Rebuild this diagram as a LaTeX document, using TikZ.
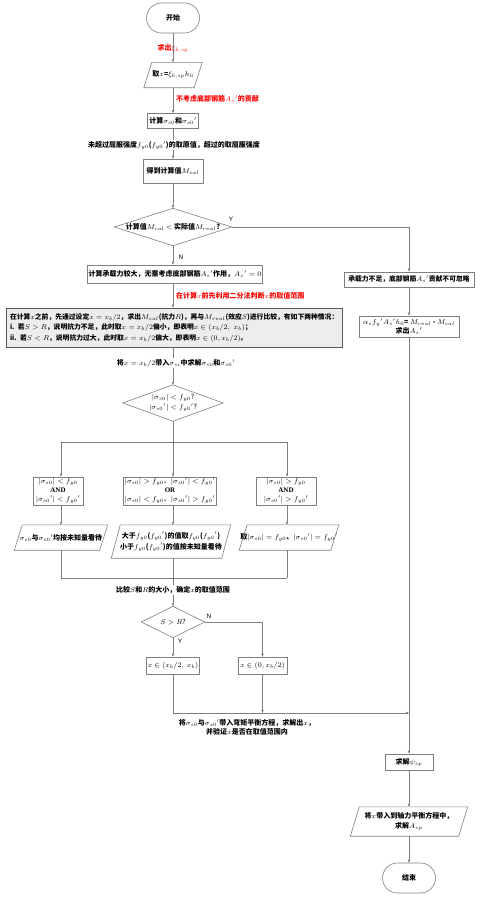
\documentclass[tikz,border=0pt]{standalone}
\usepackage{fontspec}
\setmainfont{Noto Sans CJK SC}
\newfontfamily\tnr{Liberation Serif}
\newfontfamily\lsans{Liberation Sans}
\usetikzlibrary{arrows.meta,calc}
\definecolor{lc}{HTML}{7F7F7F}
\definecolor{gboxfill}{HTML}{EDEDED}
\definecolor{gboxline}{HTML}{5A5A5A}
\definecolor{rd}{HTML}{FF0000}
\newcommand\drawpara[2]{\draw[shp] ($(#1.north west)+(#2,0)$) -- (#1.north east) -- ($(#1.south east)-(#2,0)$) -- (#1.south west) -- cycle;}
\newcommand\drawdia[1]{\draw[shp] (#1.north) -- (#1.east) -- (#1.south) -- (#1.west) -- cycle;}
\begin{document}
\begin{tikzpicture}[x=1pt,y=-1pt,
  every node/.style={font=\fontsize{7}{9}\selectfont\bfseries, inner sep=1pt, align=center},
  shp/.style={draw=lc, line width=0.6pt},
  ln/.style={draw=lc, line width=0.6pt},
  arr/.style={draw=lc, line width=0.6pt, -{Triangle[length=3pt,width=2.4pt]}},
  term/.style={shp, rounded corners=15pt, minimum width=53pt, minimum height=30pt},
  rbox/.style={shp},
  hid/.style={},
  redlab/.style={text=rd},
  wlab/.style={fill=white},
  yn/.style={font=\fontsize{6.5}{8}\selectfont\lsans}
]
\useasboundingbox (0,0) rectangle (484,898);

% main column
\node[term] (start) at (173,18) {开始};
\node[hid, minimum width=58pt, minimum height=25pt] (p1) at (173,75) {取$x$=$\xi_{b,sp}h_0$};
\drawpara{p1}{8}
\node[rbox, minimum width=51pt, minimum height=15pt] (b1) at (173,121) {计算$\sigma_{s0}$和$\sigma_{s0}{}'$};
\node[rbox, minimum width=60pt, minimum height=24pt] (b2) at (173,171) {得到计算值$M_{cal}$};
\node[hid, minimum width=117pt, minimum height=37pt] (d1) at (173,227) {计算值$M_{cal}$ $<$ 实际值$M_{real}$?};
\drawdia{d1}
\node[rbox, minimum width=175pt, minimum height=18pt] (b3) at (175,274) {计算承载力较大，无需考虑底部钢筋$A_s{}'$作用，$A_s{}'=0$};
\node[draw=gboxline, line width=0.6pt, fill=gboxfill, minimum width=336pt, minimum height=39pt, text width=328pt, align=left, font=\fontsize{6.8}{10.5}\selectfont\bfseries] (g) at (174,327.5) {在计算$x$之前，先通过设定$x=x_b/2$，求出$M_{cal}$(抗力$R$)，再与$M_{real}$(效应$S$)进行比较，有如下两种情况：\\
i. 若$S>R$，说明抗力不足，此时取$x=x_b/2$偏小，即表明$x\in(x_b/2,\ x_b)$；\\
ii. 若$S<R$，说明抗力过大，此时取$x=x_b/2$偏大，即表明$x\in(0,x_b/2)$。};
\node[hid, minimum width=100pt, minimum height=36pt, font=\fontsize{7}{10}\selectfont] (d2) at (173,403) {$|\sigma_{s0}|<f_{y0}$?\\$|\sigma_{s0}{}'|<f_{y0}{}'$?};
\drawdia{d2}

% three cases
\node[rbox, minimum width=50pt, minimum height=28pt, font=\fontsize{7}{9}\selectfont] (c1) at (58,491) {$|\sigma_{s0}|<f_{y0}$\\{\tnr\bfseries AND}\\$|\sigma_{s0}{}'|<f_{y0}{}'$};
\node[rbox, minimum width=86pt, minimum height=28pt, font=\fontsize{7}{9}\selectfont] (c2) at (170,491) {$|\sigma_{s0}|>f_{y0}$、$|\sigma_{s0}{}'|<f_{y0}{}'$\\{\tnr\bfseries OR}\\$|\sigma_{s0}|<f_{y0}$、$|\sigma_{s0}{}'|>f_{y0}{}'$};
\node[rbox, minimum width=60pt, minimum height=28pt, font=\fontsize{7}{9}\selectfont] (c3) at (286,491) {$|\sigma_{s0}|>f_{y0}$\\{\tnr\bfseries AND}\\$|\sigma_{s0}{}'|>f_{y0}{}'$};
\node[hid, minimum width=93pt, minimum height=25pt] (q1) at (61,537.5) {$\sigma_{s0}$与$\sigma_{s0}{}'$均按未知量看待};
\drawpara{q1}{8}
\node[hid, minimum width=119pt, minimum height=33pt, font=\fontsize{7}{11}\selectfont\bfseries] (q2) at (171,541.5) {大于$f_{y0}$($f_{y0}{}'$)的值取$f_{y0}$($f_{y0}{}'$)\\小于$f_{y0}$($f_{y0}{}'$)的值按未知量看待};
\drawpara{q2}{9}
\node[hid, minimum width=98pt, minimum height=25pt] (q3) at (289,537.5) {取$|\sigma_{s0}|=f_{y0}$、$|\sigma_{s0}{}'|=f_{y0}{}'$};
\drawpara{q3}{8}

\node[hid, minimum width=63pt, minimum height=31pt, font=\fontsize{7}{9}\selectfont] (d3) at (173,622) {$S>R$?};
\drawdia{d3}
\node[rbox, minimum width=48pt, minimum height=17pt, font=\fontsize{7}{9}\selectfont] (r1) at (173,665.5) {$x\in(x_b/2,\ x_b)$};
\node[rbox, minimum width=49pt, minimum height=17pt, font=\fontsize{7}{9}\selectfont] (r2) at (262.5,665.5) {$x\in(0,x_b/2)$};

% right column
\node[rbox, minimum width=130pt, minimum height=15pt, font=\fontsize{6.8}{9}\selectfont\bfseries] (R1) at (409,279.5) {承载力不足，底部钢筋$A_s{}'$贡献不可忽略};
\node[rbox, minimum width=100pt, minimum height=21pt, font=\fontsize{7}{8.5}\selectfont\bfseries] (R2) at (409,326.5) {$\alpha_s f_y{}'A_s{}'h_0$= $M_{real}$ - $M_{cal}$\\求出$A_s{}'$};
\node[rbox, minimum width=48pt, minimum height=16pt] (s1) at (409,762) {求解$\psi_{sp}$};
\node[hid, minimum width=117pt, minimum height=29pt, font=\fontsize{7}{9.5}\selectfont\bfseries] (q4) at (409,821.5) {将$x$带入到轴力平衡方程中，\\求解$A_{sp}$};
\drawpara{q4}{9}
\node[term] (end) at (409,878) {结束};

% coordinates
\coordinate (bx1) at (61,442);
\coordinate (bx2) at (173,442);
\coordinate (bx3) at (287,442);
\coordinate (j1) at (61,578);
\coordinate (j2) at (173,578);
\coordinate (j3) at (287,578);
\coordinate (m1) at (173,713);
\coordinate (m2) at (409,713);

% connectors
\draw[arr] (start) -- (p1);
\node[redlab] at (173,48) {求出$\xi_{b,sp}$};
\draw[arr] (p1) -- (b1);
\node[redlab, anchor=west] at (175,99) {不考虑底部钢筋$A_s{}'$的贡献};
\draw[arr] (b1) -- (b2);
\node[wlab] at (174,145) {未超过屈服强度$f_{y0}$($f_{y0}{}'$)的取原值，超过的取屈服强度};
\draw[arr] (b2) -- (d1);
\draw[arr] (d1.east) -| (R1.north);
\node[yn] at (231,219) {Y};
\draw[arr] (d1.south) -- (d1.south |- b3.north);
\node[yn] at (181,257) {N};
\draw[arr] (d1.south |- b3.south) -- (d1.south |- g.north);
\node[redlab, anchor=west] at (175,296) {在计算$x$前先利用二分法判断$x$的取值范围};
\draw[arr] (g.south -| d1.south) -- (d2.north);
\node[wlab] at (176,363) {将$x=x_b/2$带入$\sigma_{si}$中求解$\sigma_{s0}$和$\sigma_{s0}{}'$};
\draw[ln] (d2.south) -- (bx2);
\draw[ln] (bx1) -- (bx3);
\draw[arr] (bx1) -- (bx1 |- c1.north);
\draw[arr] (bx2) -- (bx2 |- c2.north);
\draw[arr] (bx3) -- (bx3 |- c3.north);
\draw[arr] (bx1 |- c1.south) -- (bx1 |- q1.north);
\draw[arr] (bx2 |- c2.south) -- (bx2 |- q2.north);
\draw[arr] (bx3 |- c3.south) -- (bx3 |- q3.north);
\draw[ln] (bx1 |- q1.south) -- (j1);
\draw[ln] (bx2 |- q2.south) -- (j2);
\draw[ln] (bx3 |- q3.south) -- (j3);
\draw[ln] (j1) -- (j3);
\draw[arr] (j2) -- (d3.north);
\node[wlab] at (173,590) {比较$S$和$R$的大小，确定$x$的取值范围};
\draw[arr] (d3.south) -- (r1.north);
\node[yn] at (180,641) {Y};
\draw[arr] (d3.east) -| (r2.north);
\node[yn] at (209,616) {N};
\draw[ln] (r1.south) -- (m1);
\draw[arr] (m1) -- (m2);
\draw[arr] (r2.south) -- (r2.south |- m1);
\node at (247,727.5) {将$\sigma_{s0}$与$\sigma_{s0}{}'$带入弯矩平衡方程，求解出$x$，\\并验证$x$是否在取值范围内};
\draw[arr] (R1) -- (R2);
\draw[arr] (R2) -- (s1);
\draw[arr] (s1) -- (q4);
\draw[arr] (q4) -- (end);
\end{tikzpicture}
\end{document}
